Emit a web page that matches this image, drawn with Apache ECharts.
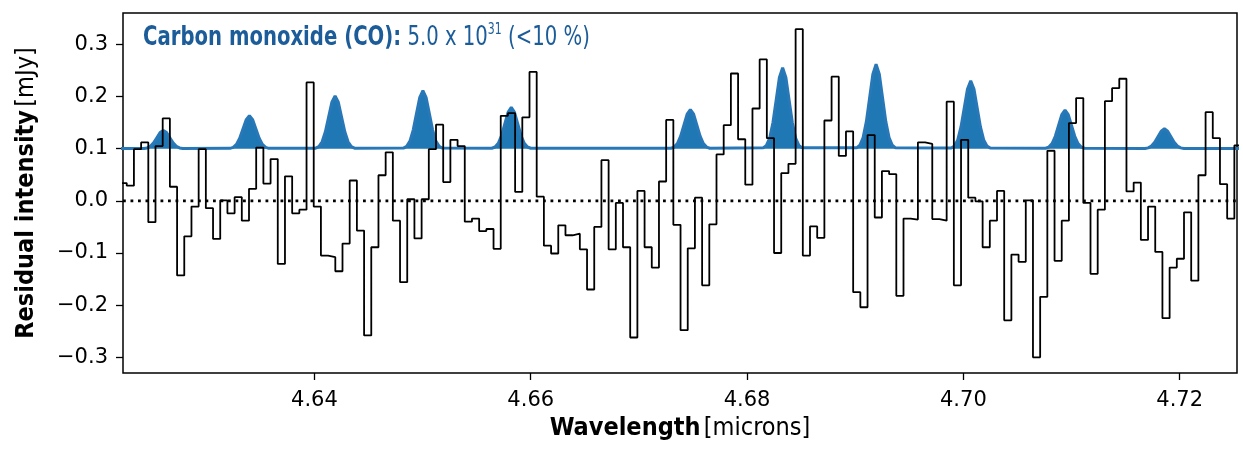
<!DOCTYPE html>
<html>
<head>
<meta charset="utf-8">
<script src="https://cdn.jsdelivr.net/npm/echarts@6/dist/echarts.min.js"></script>
<style>
  html, body { margin: 0; padding: 0; background: #fff; }
  #chart { width: 1243px; height: 457px; }
</style>
</head>
<body>
<div id="chart"></div>
<script>
// wavelength grid of the residual spectrum (left bin edges)
const binStart = 4.62198;
const binWidth = 0.000665;

// residual intensity per bin [mJy]
const residual = [
  0.034, 0.029, 0.099, 0.112, -0.041, 0.105, 0.158, 0.027, -0.143, -0.068,
  -0.011, 0.099, -0.014, -0.073, 0.001, -0.024, 0.007, -0.038, 0.023, 0.102,
  0.033, 0.080, -0.121, 0.047, -0.024, -0.017, 0.227, -0.011, -0.105, -0.108,
  -0.135, -0.082, 0.039, -0.057, -0.258, -0.089, 0.049, 0.093, -0.038, -0.156,
  0.003, -0.072, 0.003, 0.099, 0.146, 0.036, 0.117, 0.105, -0.040, -0.034,
  -0.058, -0.054, -0.092, 0.163, 0.168, 0.017, 0.160, 0.247, 0.008, -0.086,
  -0.101, -0.047, -0.066, -0.063, -0.093, -0.170, -0.050, 0.078, -0.093, -0.004,
  -0.089, -0.262, 0.019, -0.089, -0.128, 0.037, 0.155, -0.046, -0.248, -0.091,
  0.006, -0.162, -0.045, 0.089, 0.145, 0.244, 0.118, 0.031, 0.177, 0.271,
  0.120, -0.100, 0.053, 0.071, 0.329, -0.105, -0.049, -0.071, 0.154, 0.238,
  0.086, 0.133, -0.175, -0.204, 0.126, -0.032, 0.057, 0.051, -0.182, -0.034,
  -0.036, 0.112, 0.109, -0.035, -0.038, 0.190, -0.162, 0.117, 0.006, -0.001,
  -0.089, -0.038, 0.019, -0.229, -0.103, -0.117, 0.001, -0.300, -0.184, 0.096,
  -0.115, -0.038, 0.149, 0.197, -0.004, -0.140, -0.017, 0.191, 0.216, 0.234,
  0.018, 0.035, -0.075, -0.011, -0.098, -0.225, -0.128, -0.111, -0.022, -0.153,
  0.049, 0.170, 0.120, 0.032, -0.034, 0.106
];

// CO model: baseline offset, line centres [microns] and peak heights above it
const modelBase = 0.1;
const lineCenters = [4.62603, 4.63399, 4.64191, 4.65003, 4.65820, 4.67476,
  4.68329, 4.69193, 4.70068, 4.70940, 4.71859];
const lineHeights = [0.035, 0.063, 0.101, 0.111, 0.079, 0.075,
  0.155, 0.162, 0.130, 0.074, 0.038];
// line profile: offset from centre and fraction of peak
const profileOffsets = [-0.0018, -0.0015, -0.0012, -0.0009, -0.0006, -0.0003, 0,
  0.0003, 0.0006, 0.0009, 0.0012, 0.0015, 0.0018];
const profileShape = [0.01, 0.04, 0.13, 0.32, 0.6, 0.88, 1, 0.88, 0.6, 0.32, 0.13, 0.04, 0.01];

const xTicks = [4.64, 4.66, 4.68, 4.70, 4.72];
const yTicks = [-0.3, -0.2, -0.1, 0.0, 0.1, 0.2, 0.3];

const xMin = 4.6223, xMax = 4.7253;
const yMin = -0.33, yMax = 0.36;

const narrow = "'Liberation Sans Narrow', 'DejaVu Sans Condensed', 'Open Sans', sans-serif";
const tickFont = "'DejaVu Sans', sans-serif";

// step data (steps-post): each bin's left edge, plus closing right edge
const stepData = residual.map((v, i) => [binStart + i * binWidth, v]);
stepData.push([binStart + residual.length * binWidth, residual[residual.length - 1]]);

// model curve
const modelData = [[xMin - 0.001, modelBase]];
lineCenters.forEach((c, k) => {
  profileOffsets.forEach((o, j) => {
    modelData.push([c + o, modelBase + lineHeights[k] * profileShape[j]]);
  });
});
modelData.push([xMax + 0.001, modelBase]);

const chart = echarts.init(document.getElementById('chart'));
chart.setOption({
  animation: false,
  grid: {
    left: 123, right: 6, top: 13, bottom: 84,
    outerBoundsMode: 'none', containLabel: false,
    show: true, borderColor: '#000', borderWidth: 1.5, backgroundColor: 'transparent'
  },
  xAxis: {
    type: 'value', min: xMin, max: xMax,
    axisLine: { show: false, onZero: false },
    splitLine: { show: false },
    axisTick: { show: true, customValues: xTicks, length: 7, lineStyle: { color: '#000', width: 1.3 } },
    axisLabel: {
      customValues: xTicks, margin: 17, color: '#000', fontSize: 21, fontFamily: tickFont,
      formatter: v => v.toFixed(2)
    },
    name: '{b|Wavelength} {n|[microns]}',
    nameLocation: 'middle', nameGap: 41,
    nameTextStyle: {
      rich: {
        b: { fontFamily: narrow, fontWeight: 'bold', fontSize: 25, color: '#000' },
        n: { fontFamily: narrow, fontSize: 25, color: '#000' }
      }
    }
  },
  yAxis: {
    type: 'value', min: yMin, max: yMax,
    axisLine: { show: false, onZero: false },
    splitLine: { show: false },
    axisTick: { show: true, customValues: yTicks, length: 7, lineStyle: { color: '#000', width: 1.3 } },
    axisLabel: {
      customValues: yTicks, margin: 15, color: '#000', fontSize: 21, fontFamily: tickFont,
      formatter: v => (v < 0 ? '\u2212' + Math.abs(v).toFixed(1) : v.toFixed(1))
    },
    name: '{b|Residual intensity} {n|[mJy]}',
    nameLocation: 'middle', nameGap: 84, nameRotate: 90,
    nameTextStyle: {
      rich: {
        b: { fontFamily: narrow, fontWeight: 'bold', fontSize: 25, color: '#000' },
        n: { fontFamily: narrow, fontSize: 25, color: '#000' }
      }
    }
  },
  graphic: [{
    type: 'text', left: 143, top: 23, z: 100, scaleX: 0.81,
    style: {
      text: '{b|Carbon monoxide (CO):}{n| 5.0 x 10}{s|31}{n| (<10 %)}',
      rich: {
        b: { fontFamily: narrow, fontWeight: 'bold', fontSize: 27, fill: '#1b5c99' },
        n: { fontFamily: narrow, fontSize: 27, fill: '#1b5c99' },
        s: { fontFamily: narrow, fontSize: 15, fill: '#1b5c99', verticalAlign: 'top', padding: [0, 0, 14, 0] }
      }
    }
  }],
  series: [
    {
      name: 'zero', type: 'line', data: [[xMin, 0], [xMax, 0]],
      showSymbol: false, silent: true, z: 1,
      lineStyle: { color: '#000', width: 2.8, type: [2.8, 4.7] }
    },
    {
      name: 'CO model', type: 'line', data: modelData,
      showSymbol: false, silent: true, z: 2,
      lineStyle: { color: '#2878b8', width: 3 },
      areaStyle: { color: '#1f77b4', opacity: 1, origin: modelBase }
    },
    {
      name: 'residual', type: 'line', data: stepData, step: 'end',
      showSymbol: false, silent: true, z: 3,
      lineStyle: { color: '#000', width: 1.8 }
    }
  ]
});
</script>
</body>
</html>
